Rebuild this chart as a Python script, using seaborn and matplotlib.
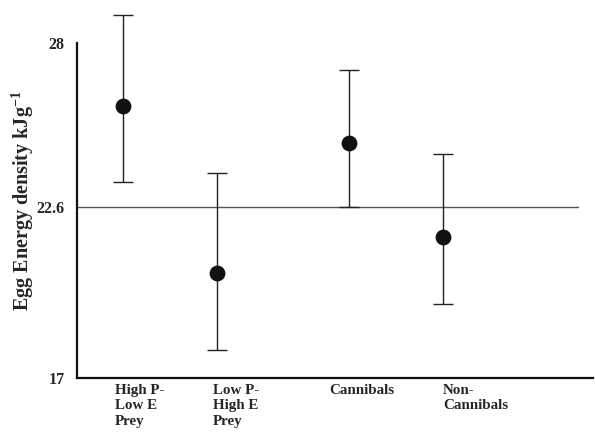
import numpy as np
import pandas as pd
import matplotlib
matplotlib.use('Agg')
import matplotlib.pyplot as plt
import seaborn as sns

# values
groups = ['High P-\nLow E\nPrey', 'Low P-\nHigh E\nPrey', 'Cannibals', 'Non-\nCannibals']
means = [25.94, 20.45, 24.73, 21.63]
lower = [23.43, 17.92, 22.60, 19.43]
upper = [28.93, 23.73, 27.10, 24.36]
ref_line = 22.6
yticks = [17, 22.6, 28]

# layout: point positions along x (groups are not evenly spaced)
xpos = [1.0, 2.0, 3.4, 4.4]
label_pos = [0.915, 1.957, 3.19, 4.404]

df = pd.DataFrame({'group': groups, 'x': xpos, 'mean': means,
                   'lower': lower, 'upper': upper})

sns.set_theme(style='white')
plt.rcParams['font.family'] = ['Liberation Serif', 'DejaVu Serif']
plt.rcParams['font.weight'] = 'bold'
plt.rcParams['mathtext.fontset'] = 'custom'
plt.rcParams['mathtext.rm'] = 'Liberation Serif:bold'
plt.rcParams['mathtext.it'] = 'Liberation Serif:bold'
plt.rcParams['mathtext.bf'] = 'Liberation Serif:bold'

fig = plt.figure(figsize=(5.95, 4.36), dpi=100)
ax = fig.add_axes([77 / 595, 58 / 436, 516 / 595, 335 / 436])

# reference line
ax.axhline(ref_line, xmin=0, xmax=0.971, color='#555555', lw=1.0, zorder=1)

# error bars
yerr = np.array([df['mean'] - df['lower'], df['upper'] - df['mean']])
ax.errorbar(df['x'], df['mean'], yerr=yerr, fmt='none', ecolor='#222222',
            elinewidth=1.0, capsize=7.5, capthick=1.0, clip_on=False, zorder=2)

# points
sns.scatterplot(data=df, x='x', y='mean', ax=ax, s=130, color='#111111',
                edgecolor='#111111', linewidth=0, zorder=3, clip_on=False)

ax.set_xlim(0.511, 6.0)
ax.set_ylim(17, 28)
ax.set_yticks(yticks)
ax.set_yticklabels(['17', '22.6', '28'], fontsize=11.5, fontweight='bold')
ax.set_xticks(label_pos)
ax.set_xticklabels(groups, fontsize=10.8, fontweight='bold', ha='left',
                   linespacing=1.28)
ax.tick_params(axis='both', length=0)
ax.tick_params(axis='y', pad=9)
ax.tick_params(axis='x', pad=4)

ax.set_xlabel('')
ax.set_ylabel(r'Egg Energy density kJg$^{-1}$', fontsize=14.5, fontweight='bold')
ax.yaxis.set_label_coords(-0.080, 0.53)

for side in ['top', 'right']:
    ax.spines[side].set_visible(False)
for side in ['left', 'bottom']:
    ax.spines[side].set_color('#111111')
    ax.spines[side].set_linewidth(1.6)

fig.savefig('out.png', dpi=100)
